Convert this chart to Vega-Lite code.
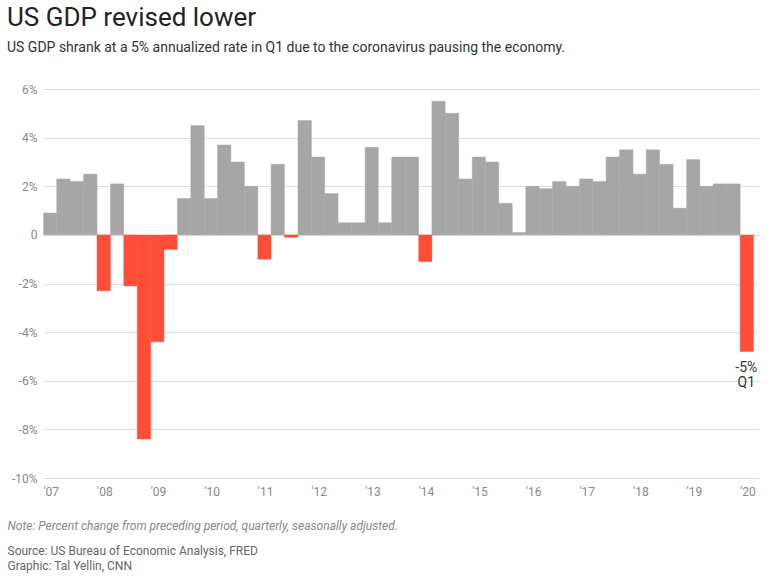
{
  "$schema": "https://vega.github.io/schema/vega-lite/v6.json",
  "width": 715,
  "height": 389,
  "autosize": {"type": "none"},
  "padding": {"left": 43, "top": 89, "right": 15, "bottom": 103},
  "background": "white",
  "config": {
    "font": "Roboto, sans-serif",
    "view": {"stroke": null}
  },
  "title": {
    "text": "US GDP revised lower",
    "subtitle": "US GDP shrank at a 5% annualized rate in Q1 due to the coronavirus pausing the economy.",
    "anchor": "start",
    "frame": "group",
    "dx": -36,
    "fontSize": 26,
    "fontWeight": "normal",
    "color": "#222222",
    "subtitleFontSize": 14,
    "subtitleColor": "#333333",
    "subtitlePadding": 10,
    "offset": 28
  },
  "datasets": {
    "gdp": [
      {"date": "2007-01-01", "value": 0.9},
      {"date": "2007-04-01", "value": 2.3},
      {"date": "2007-07-01", "value": 2.2},
      {"date": "2007-10-01", "value": 2.5},
      {"date": "2008-01-01", "value": -2.3},
      {"date": "2008-04-01", "value": 2.1},
      {"date": "2008-07-01", "value": -2.1},
      {"date": "2008-10-01", "value": -8.4},
      {"date": "2009-01-01", "value": -4.4},
      {"date": "2009-04-01", "value": -0.6},
      {"date": "2009-07-01", "value": 1.5},
      {"date": "2009-10-01", "value": 4.5},
      {"date": "2010-01-01", "value": 1.5},
      {"date": "2010-04-01", "value": 3.7},
      {"date": "2010-07-01", "value": 3.0},
      {"date": "2010-10-01", "value": 2.0},
      {"date": "2011-01-01", "value": -1.0},
      {"date": "2011-04-01", "value": 2.9},
      {"date": "2011-07-01", "value": -0.1},
      {"date": "2011-10-01", "value": 4.7},
      {"date": "2012-01-01", "value": 3.2},
      {"date": "2012-04-01", "value": 1.7},
      {"date": "2012-07-01", "value": 0.5},
      {"date": "2012-10-01", "value": 0.5},
      {"date": "2013-01-01", "value": 3.6},
      {"date": "2013-04-01", "value": 0.5},
      {"date": "2013-07-01", "value": 3.2},
      {"date": "2013-10-01", "value": 3.2},
      {"date": "2014-01-01", "value": -1.1},
      {"date": "2014-04-01", "value": 5.5},
      {"date": "2014-07-01", "value": 5.0},
      {"date": "2014-10-01", "value": 2.3},
      {"date": "2015-01-01", "value": 3.2},
      {"date": "2015-04-01", "value": 3.0},
      {"date": "2015-07-01", "value": 1.3},
      {"date": "2015-10-01", "value": 0.1},
      {"date": "2016-01-01", "value": 2.0},
      {"date": "2016-04-01", "value": 1.9},
      {"date": "2016-07-01", "value": 2.2},
      {"date": "2016-10-01", "value": 2.0},
      {"date": "2017-01-01", "value": 2.3},
      {"date": "2017-04-01", "value": 2.2},
      {"date": "2017-07-01", "value": 3.2},
      {"date": "2017-10-01", "value": 3.5},
      {"date": "2018-01-01", "value": 2.5},
      {"date": "2018-04-01", "value": 3.5},
      {"date": "2018-07-01", "value": 2.9},
      {"date": "2018-10-01", "value": 1.1},
      {"date": "2019-01-01", "value": 3.1},
      {"date": "2019-04-01", "value": 2.0},
      {"date": "2019-07-01", "value": 2.1},
      {"date": "2019-10-01", "value": 2.1},
      {"date": "2020-01-01", "value": -4.8}
    ],
    "note": [
      {"date": "2020-01-01", "value": -4.8, "label": "-5%|Q1"}
    ]
  },
  "layer": [
    {
      "data": {"name": "gdp"},
      "mark": {"type": "bar", "binSpacing": 0, "strokeWidth": 0.4},
      "encoding": {
        "x": {
          "field": "date",
          "type": "temporal",
          "timeUnit": "utcyearquarter",
          "scale": {"type": "utc", "domain": [{"year": 2007, "month": 1, "date": 1, "utc": true}, {"year": 2020, "month": 5, "date": 5, "utc": true}]},
          "axis": {
            "values": [
              {"year": 2007, "month": 1, "date": 1, "utc": true},
              {"year": 2008, "month": 1, "date": 1, "utc": true},
              {"year": 2009, "month": 1, "date": 1, "utc": true},
              {"year": 2010, "month": 1, "date": 1, "utc": true},
              {"year": 2011, "month": 1, "date": 1, "utc": true},
              {"year": 2012, "month": 1, "date": 1, "utc": true},
              {"year": 2013, "month": 1, "date": 1, "utc": true},
              {"year": 2014, "month": 1, "date": 1, "utc": true},
              {"year": 2015, "month": 1, "date": 1, "utc": true},
              {"year": 2016, "month": 1, "date": 1, "utc": true},
              {"year": 2017, "month": 1, "date": 1, "utc": true},
              {"year": 2018, "month": 1, "date": 1, "utc": true},
              {"year": 2019, "month": 1, "date": 1, "utc": true},
              {"year": 2020, "month": 1, "date": 1, "utc": true}
            ],
            "format": "'%y",
            "labelAlign": "left",
            "labelColor": "#888888",
            "labelFontSize": 12,
            "labelPadding": 8,
            "labelFlush": false,
            "labelOverlap": false,
            "ticks": false,
            "domain": false,
            "grid": false,
            "title": "Note: Percent change from preceding period, quarterly, seasonally adjusted.",
            "titleAnchor": "start",
            "titleAlign": "left",
            "titleBaseline": "middle",
            "titleX": -36,
            "titleY": 47,
            "titleFontSize": 12,
            "titleFontStyle": "italic",
            "titleFontWeight": "normal",
            "titleColor": "#888888"
          }
        },
        "y": {
          "field": "value",
          "type": "quantitative",
          "scale": {"domain": [-10, 6], "nice": false, "zero": false},
          "axis": {
            "values": [-10, -8, -6, -4, -2, 0, 2, 4, 6],
            "labelExpr": "datum.value == 0 ? '0' : datum.value + '%'",
            "labelColor": "#888888",
            "labelFontSize": 12,
            "labelPadding": 6,
            "ticks": false,
            "domain": false,
            "grid": true,
            "gridColor": "#dddddd",
            "gridWidth": 1,
            "title": ["Source: US Bureau of Economic Analysis, FRED", "Graphic: Tal Yellin, CNN"],
            "titleAngle": 0,
            "titleAnchor": "start",
            "titleAlign": "left",
            "titleBaseline": "middle",
            "titleX": -36,
            "titleY": 461,
            "titleFontSize": 12,
            "titleFontWeight": "normal",
            "titleColor": "#666666",
            "titleLineHeight": 15
          }
        },
        "color": {
          "condition": {"test": "datum.value < 0", "value": "#ff4e38"},
          "value": "#a6a6a6"
        },
        "stroke": {
          "condition": {"test": "datum.value < 0", "value": "#ff4e38"},
          "value": "#a6a6a6"
        }
      }
    },
    {
      "mark": {"type": "rule", "color": "#444444", "strokeWidth": 2},
      "encoding": {"y": {"datum": 0}}
    },
    {
      "data": {"name": "note"},
      "mark": {"type": "text", "baseline": "top", "align": "center", "dy": 9, "fontSize": 14, "color": "#333333", "lineBreak": "|", "lineHeight": 15},
      "encoding": {
        "x": {"field": "date", "type": "temporal", "timeUnit": "utcyearquarter", "bandPosition": 0.5},
        "y": {"field": "value", "type": "quantitative"},
        "text": {"field": "label"}
      }
    }
  ]
}
